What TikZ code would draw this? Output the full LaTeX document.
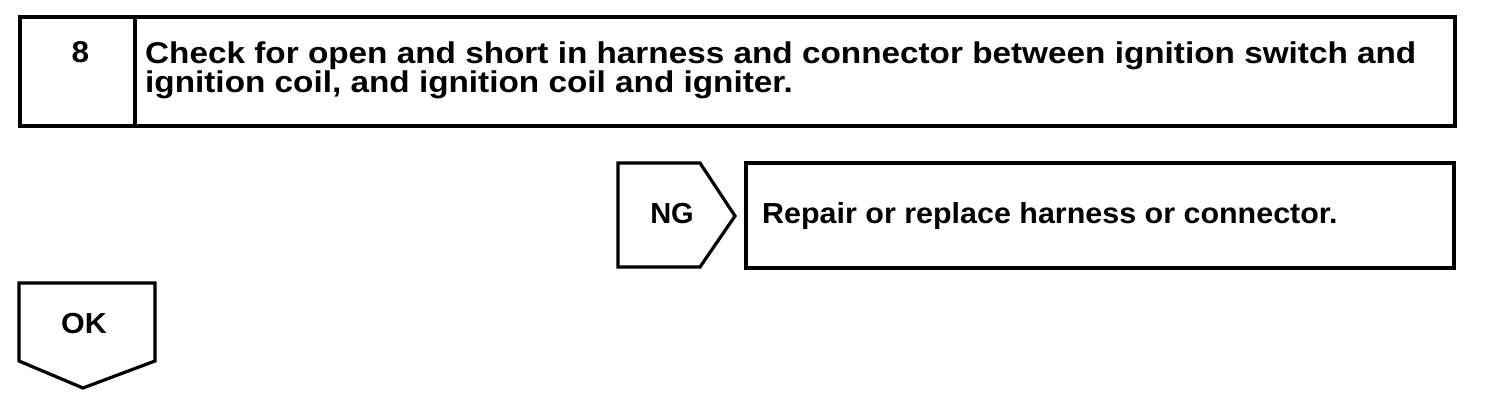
\documentclass[tikz,border=0pt]{standalone}
\usepackage{fontspec}
\setmainfont{Liberation Sans}
\newfontfamily\mainf[FakeStretch=1.11]{Liberation Sans}
\newfontfamily\repf[FakeStretch=1.05]{Liberation Sans}
\newfontfamily\tagf[FakeStretch=1.0]{Liberation Sans}
\begin{document}
\begin{tikzpicture}[x=1pt,y=-1pt,
  box/.style={draw=black,line width=3.2pt,line join=miter},
  lbl/.style={font=\mainf\fontsize{30}{29}\selectfont\bfseries,inner sep=0pt,anchor=base west},
  rlbl/.style={font=\repf\fontsize{29}{28}\selectfont\bfseries,inner sep=0pt,anchor=base west},
  clbl/.style={font=\tagf\fontsize{29}{28}\selectfont\bfseries,inner sep=0pt,anchor=base}]
\useasboundingbox (0,0) rectangle (1504,406);
% step box
\draw[box] (20,17) rectangle (1455,126);
\draw[box] (135,17) -- (135,126);
\node[clbl,font=\repf\fontsize{30}{28}\selectfont\bfseries] (num) at (80.5,63) {8};
\node[lbl,align=left] (check) at (145,93) {Check for open and short in harness and connector between ignition switch and\\ignition coil, and ignition coil and igniter.};
% NG tag
\draw[box] (618,163) -- (700,163) -- (735,216) -- (700,267) -- (618,267) -- cycle;
\node[clbl] (ng) at (672,223) {NG};
% repair box
\draw[box] (746,163) rectangle (1454,268);
\node[rlbl] (repair) at (762,223) {Repair or replace harness or connector.};
% OK tag
\draw[box] (19,283) -- (155,283) -- (155,361) -- (83,388) -- (19,361) -- cycle;
\node[clbl,font=\repf\fontsize{29}{28}\selectfont\bfseries] (ok) at (84,333) {OK};
\end{tikzpicture}
\end{document}
